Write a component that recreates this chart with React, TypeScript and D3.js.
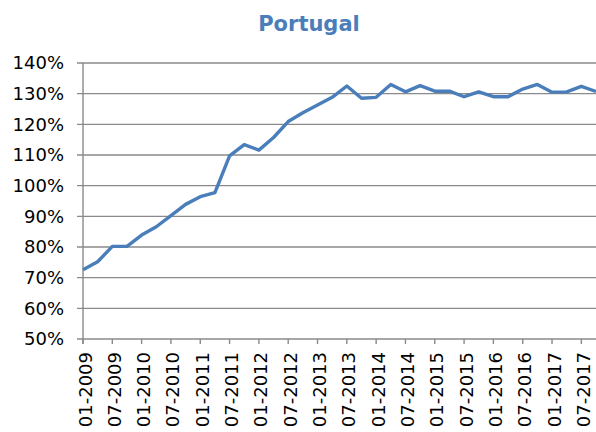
import React from "react";
import * as d3 from "d3";

const title = "Portugal";
const years = [2009, 2010, 2011, 2012, 2013, 2014, 2015, 2016, 2017];
const months = ["01", "04", "07", "10"];
const categories: string[] = years.flatMap((y) => months.map((m) => `${m}-${y}`));
const values: number[] = [
  72.6, 75.2, 80.2, 80.2, 83.9, 86.6, 90.2, 93.9, 96.4, 97.7,
  109.7, 113.4, 111.6, 115.7, 120.9, 123.8, 126.3, 128.8, 132.5, 128.5,
  128.8, 133.0, 130.6, 132.6, 130.8, 130.8, 129.0, 130.6, 129.0, 129.0,
  131.5, 133.0, 130.5, 130.6, 132.4, 130.7,
];
const yTicks = [50, 60, 70, 80, 90, 100, 110, 120, 130, 140];

const W = 596;
const H = 432;
const left = 83;
const right = 596;
const top = 63;
const bottom = 339;
const blue = "#4a7ebb";
const grid = "#8a8a8a";
const font = "'DejaVu Sans', Verdana, sans-serif";

export default function App() {
  const x = d3.scalePoint<string>().domain(categories).range([left, right]);
  const y = d3.scaleLinear().domain([50, 140]).range([bottom, top]);
  const line = d3
    .line<number>()
    .x((_, i) => x(categories[i]) as number)
    .y((d) => y(d));
  const labelIdx = categories.map((_, i) => i).filter((i) => i % 2 === 0);

  return (
    <svg
      width={W}
      height={H}
      style={{ position: "absolute", left: 0, top: 0, background: "#fff" }}
    >
      <text
        x={309}
        y={31}
        textAnchor="middle"
        fontFamily={font}
        fontWeight="bold"
        fontSize={21}
        fill={blue}
      >
        {title}
      </text>
      {yTicks.map((t) => (
        <g key={t}>
          <line x1={77} x2={right} y1={y(t)} y2={y(t)} stroke={grid} strokeWidth={1.4} />
          <text
            x={64}
            y={y(t)}
            dy="0.36em"
            textAnchor="end"
            fontFamily={font}
            fontSize={18}
            fill="#000"
          >
            {t}%
          </text>
        </g>
      ))}
      <line x1={left} x2={left} y1={top} y2={bottom + 5} stroke={grid} strokeWidth={1.4} />
      {labelIdx.map((i) => {
        const px = x(categories[i]) as number;
        return (
          <g key={i}>
            <line x1={px} x2={px} y1={bottom} y2={bottom + 5} stroke={grid} strokeWidth={1.4} />
            <text
              transform={`translate(${px + 8.5},${bottom + 13}) rotate(-90)`}
              textAnchor="end"
              fontFamily={font}
              fontSize={18}
              fill="#000"
            >
              {categories[i]}
            </text>
          </g>
        );
      })}
      <path
        d={line(values) || ""}
        fill="none"
        stroke={blue}
        strokeWidth={3.4}
        strokeLinejoin="round"
      />
    </svg>
  );
}
